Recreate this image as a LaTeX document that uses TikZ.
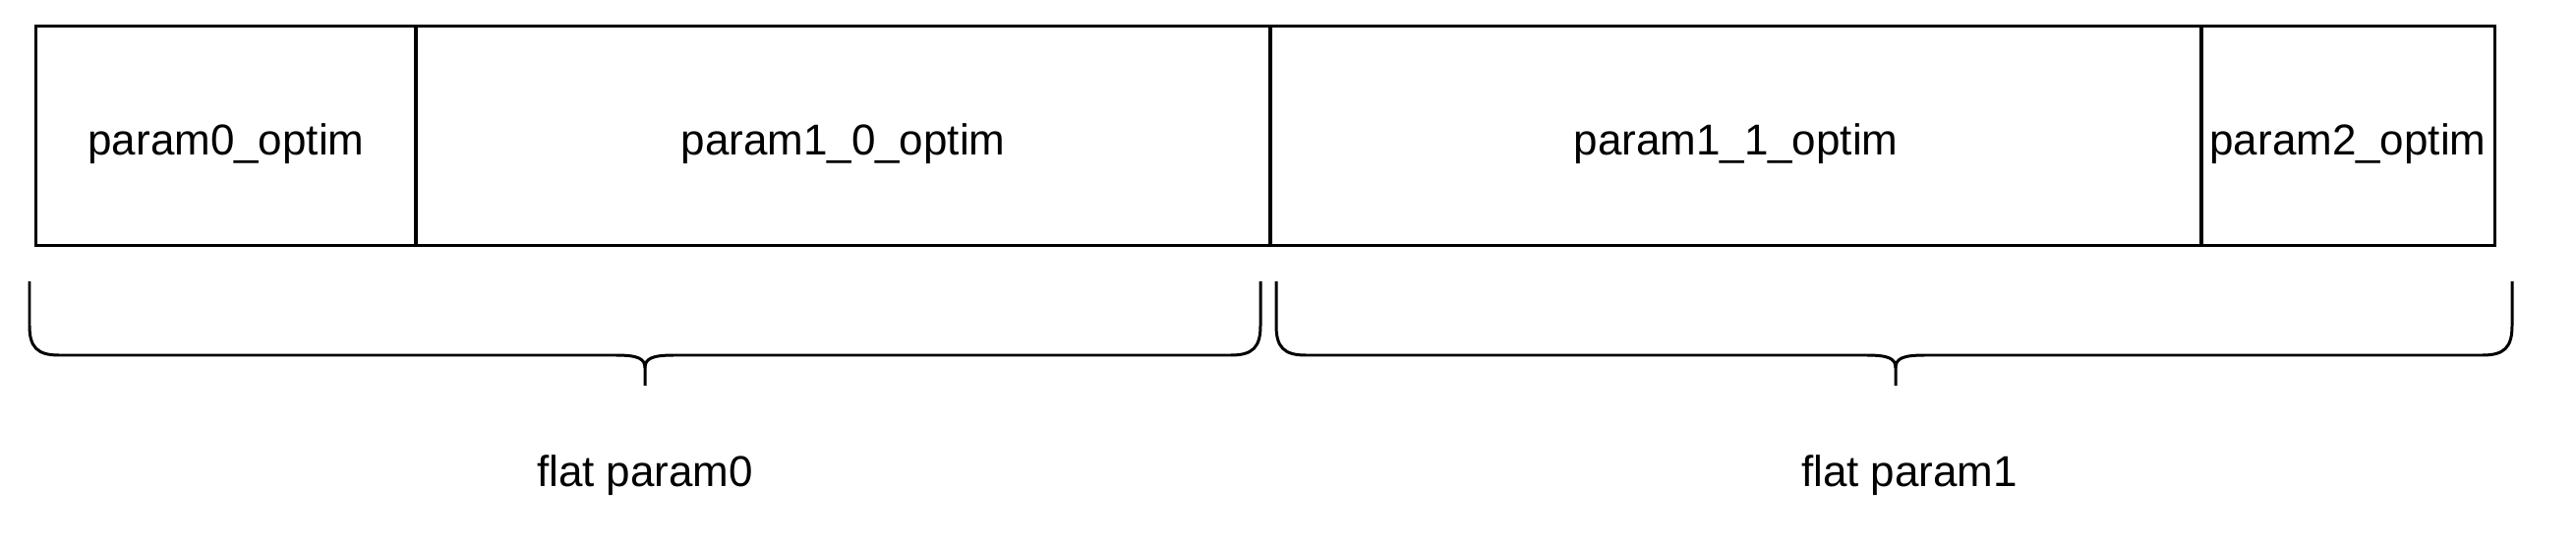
\documentclass[tikz,border=0pt]{standalone}
\usepackage{fontspec}
\setmainfont{Liberation Sans}
\begin{document}
\begin{tikzpicture}[x=0.01cm,y=-0.01cm,
  cell/.style={draw=black,line width=0.85pt,inner sep=0pt,minimum height=2.22cm,
    text height=13.5pt,text depth=2.6pt,
    font=\fontsize{12.5pt}{15pt}\selectfont},
  lbl/.style={font=\fontsize{12.5pt}{15pt}\selectfont,inner sep=0pt},
  brace/.style={draw=black,line width=0.85pt,line join=round}]
\useasboundingbox (0,0) rectangle (2620,558);
\node[cell,minimum width=3.86cm] (p0) at (230,138) {param0\_optim};
\node[cell,minimum width=8.69cm] (p10) at (857.5,138) {param1\_0\_optim};
\node[cell,minimum width=9.47cm] (p11) at (1765.5,138) {param1\_1\_optim};
\node[cell,minimum width=2.98cm] (p2) at (2388,138) {param2\_optim};
% left brace
\coordinate (b0tip) at (656,392);
\draw[brace] (30,286) -- (30,331) .. controls (30,353) and (38,361) .. (60,361)
  -- (626,361) .. controls (648,361) and (656,364) .. (656,374) -- (b0tip);
\draw[brace] (1282,286) -- (1282,331) .. controls (1282,353) and (1274,361) .. (1252,361)
  -- (686,361) .. controls (664,361) and (656,364) .. (656,374);
% right brace
\coordinate (b1tip) at (1928,392);
\draw[brace] (1298,286) -- (1298,331) .. controls (1298,353) and (1306,361) .. (1328,361)
  -- (1898,361) .. controls (1920,361) and (1928,364) .. (1928,374) -- (b1tip);
\draw[brace] (2555,286) -- (2555,331) .. controls (2555,353) and (2547,361) .. (2525,361)
  -- (1958,361) .. controls (1936,361) and (1928,364) .. (1928,374);
\node[lbl] (f0) at (656,483) {flat param0};
\node[lbl] (f1) at (1942,483) {flat param1};
\end{tikzpicture}
\end{document}
